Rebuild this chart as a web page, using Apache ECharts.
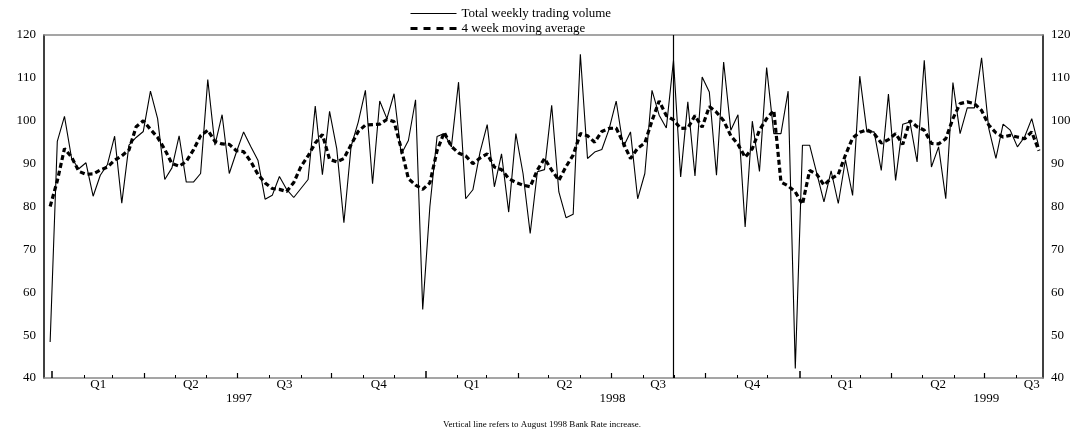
<!DOCTYPE html>
<html>
<head>
<meta charset="utf-8">
<script src="https://cdn.jsdelivr.net/npm/echarts@6/dist/echarts.min.js"></script>
<style>
html,body{margin:0;padding:0;background:#fff;}
#chart{width:1084px;height:435px;}
</style>
</head>
<body>
<div id="chart"></div>
<script>
// ---- data ----
const firstWeek = '1996-12-30';   // date of first weekly observation
const seriesNames = ['Total weekly trading volume', '4 week moving average'];
const volume = [
  48.4, 95.2, 101.0, 91.2, 88.8, 90.2, 82.4, 87.3, 89.8, 96.4,
  80.8, 94.3, 96.1, 97.5, 106.9, 100.5, 86.3, 89.0, 96.5, 85.7,
  85.7, 87.7, 109.6, 94.3, 101.4, 87.7, 92.7, 97.4, 94.0, 90.8,
  81.7, 82.6, 87.0, 84.0, 82.1, 84.2, 86.3, 103.4, 87.4, 102.2,
  93.5, 76.2, 94.0, 99.7, 107.1, 85.3, 104.6, 100.5, 106.3, 92.2,
  95.4, 104.9, 56.0, 80.0, 96.3, 97.0, 93.9, 109.0, 81.8, 83.9,
  92.7, 99.1, 84.6, 92.3, 78.7, 97.0, 87.7, 73.7, 88.1, 88.6,
  103.6, 83.4, 77.4, 78.2, 115.5, 91.2, 92.7, 93.3, 98.0, 104.6,
  93.9, 97.4, 81.8, 87.7, 107.1, 101.3, 98.3, 114.1, 86.9, 104.4,
  87.1, 110.2, 106.7, 87.3, 113.7, 97.8, 101.4, 75.2, 99.9, 88.2,
  112.4, 97.0, 97.0, 106.9, 42.2, 94.3, 94.3, 87.7, 81.1, 88.3,
  80.7, 90.9, 82.6, 110.4, 97.4, 97.4, 88.4, 106.2, 86.1, 99.2,
  99.7, 90.4, 114.1, 89.2, 93.9, 81.8, 108.9, 97.0, 103.0, 103.0,
  114.7, 98.2, 91.2, 99.2, 97.8, 93.9, 96.2, 100.5, 93.9
];
const movingAvg = [
  80.0, 86.0, 93.5, 91.5, 88.2, 87.5, 87.6, 88.5, 89.2, 90.8,
  91.8, 93.2, 98.6, 100.0, 98.0, 96.1, 93.3, 90.0, 89.4, 90.5,
  93.2, 96.5, 97.8, 95.2, 94.6, 94.5, 93.0, 92.8, 90.5, 87.5,
  85.5, 84.2, 84.0, 83.5, 85.6, 89.3, 91.8, 94.8, 96.8, 91.0,
  90.4, 91.2, 94.4, 97.5, 99.0, 99.1, 99.2, 100.3, 99.8, 93.5,
  86.5, 85.0, 84.0, 85.5, 93.0, 97.3, 94.0, 92.5, 91.8, 90.0,
  91.3, 92.3, 89.2, 88.6, 86.5, 85.6, 85.0, 84.6, 88.5, 91.2,
  88.5, 86.1, 89.3, 92.0, 97.0, 96.5, 95.0, 97.5, 98.2, 98.3,
  94.8, 91.2, 93.6, 94.8, 100.0, 104.6, 101.2, 100.2, 98.2, 98.3,
  101.2, 98.5, 103.3, 102.0, 100.0, 96.5, 94.5, 91.5, 93.5, 97.8,
  100.5, 102.4, 85.7, 84.8, 83.4, 80.5, 88.4, 87.5, 85.0, 86.5,
  87.5, 92.0, 96.0, 97.3, 97.9, 97.0, 94.8, 95.6, 97.0, 94.5,
  100.0, 98.6, 97.8, 94.7, 94.6, 95.8, 100.5, 104.0, 104.4, 104.0,
  102.4, 99.0, 97.2, 96.2, 96.6, 96.2, 95.8, 97.4, 93.0
];
const rateRiseDate = '1998-08-31';
const axisStart = '1996-12-24';
const axisEnd = '1999-08-27';
const years = [1997, 1998, 1999];
const quarterLabels = ['Q1', 'Q2', 'Q3', 'Q4'];
const yTicks = {min: 40, max: 120, interval: 10};
const footnote = 'Vertical line refers to August 1998 Bank Rate increase.';

// ---- helpers: x axis measured in days from 1 Jan 1997 ----
const DAY = 86400000;
const ORIGIN = Date.UTC(1997, 0, 1);
const dayOf = s => { const [y, m, d] = s.split('-').map(Number); return (Date.UTC(y, m - 1, d) - ORIGIN) / DAY; };
const dayYMD = (y, m, d) => (Date.UTC(y, m - 1, d) - ORIGIN) / DAY;
const xMin = dayOf(axisStart), xMax = dayOf(axisEnd);
const start = dayOf(firstWeek);
const volData = volume.map((v, i) => [start + 7 * i, v]);
const maData = movingAvg.map((v, i) => [start + 7 * i, v]);

const monthTicks = [], quarterTicks = [], yearTicks = [];
for (const y of years) {
  for (let m = 1; m <= 12; m++) {
    const d = dayYMD(y, m, 1);
    if (d < xMin || d > xMax) continue;
    if (m === 1) yearTicks.push(d);
    else if ((m - 1) % 3 === 0) quarterTicks.push(d);
    else monthTicks.push(d);
  }
}
const qMids = [], qMap = {};
for (const y of years) {
  for (let q = 0; q < 4; q++) {
    const a = dayYMD(y, q * 3 + 1, 1), b = q === 3 ? dayYMD(y + 1, 1, 1) : dayYMD(y, q * 3 + 4, 1);
    const mid = (a + b) / 2;
    if (mid < xMin || mid > xMax) continue;
    qMids.push(mid); qMap[mid] = quarterLabels[q];
  }
}
const yMids = [], yMap = {};
for (const y of years) {
  const mid = (dayYMD(y, 1, 1) + dayYMD(y + 1, 1, 1)) / 2;
  yMids.push(mid); yMap[mid] = String(y);
}

const SERIF = 'Liberation Serif';
const baseX = {
  type: 'value', min: xMin, max: xMax, position: 'bottom',
  splitLine: {show: false}, axisLine: {show: false},
  axisTick: {show: false}, axisLabel: {show: false}
};
const chart = echarts.init(document.getElementById('chart'));
chart.setOption({
  animation: false,
  backgroundColor: '#fff',
  grid: {left: 44, right: 41, top: 35, bottom: 57},
  title: {
    text: footnote, left: 'center', bottom: 1,
    textStyle: {fontFamily: SERIF, fontSize: 9, fontWeight: 'normal', color: '#000'}
  },
  legend: {
    show: true,
    orient: 'vertical', left: 404, top: 2, right: 'auto', bottom: 'auto',
    itemWidth: 46, itemHeight: 10, itemGap: 2,
    textStyle: {fontFamily: SERIF, fontSize: 13, color: '#000'},
    data: [
      {name: seriesNames[0], itemStyle: {opacity: 0}, lineStyle: {color: '#000', width: 1}},
      {name: seriesNames[1], itemStyle: {opacity: 0}, lineStyle: {color: '#000', width: 3, type: [7, 6]}}
    ]
  },
  xAxis: [
    Object.assign({}, baseX, {
      axisLine: {show: true, onZero: false, lineStyle: {color: '#888', width: 1.5}},
      axisTick: {show: true, inside: true, length: 3, customValues: monthTicks, lineStyle: {color: '#000', width: 1}}
    }),
    Object.assign({}, baseX, {
      axisTick: {show: true, inside: true, length: 5, customValues: quarterTicks, lineStyle: {color: '#000', width: 1.2}},
      axisLabel: {show: true, customValues: qMids, margin: 0, formatter: v => qMap[v] || '',
        fontFamily: SERIF, fontSize: 13, color: '#000'}
    }),
    Object.assign({}, baseX, {
      axisTick: {show: true, inside: true, length: 7, customValues: yearTicks, lineStyle: {color: '#000', width: 1.5}},
      axisLabel: {show: true, customValues: yMids, margin: 14, formatter: v => yMap[v] || '',
        fontFamily: SERIF, fontSize: 13, color: '#000'}
    }),
    Object.assign({}, baseX, {
      position: 'top',
      axisLine: {show: true, onZero: false, lineStyle: {color: '#888', width: 1.5}}
    })
  ],
  yAxis: [
    {
      type: 'value', position: 'left', min: yTicks.min, max: yTicks.max, interval: yTicks.interval,
      splitLine: {show: false}, axisTick: {show: false},
      axisLine: {show: true, onZero: false, lineStyle: {color: '#000', width: 1.5}},
      axisLabel: {margin: 8, fontFamily: SERIF, fontSize: 13, color: '#000'}
    },
    {
      type: 'value', position: 'right', min: yTicks.min, max: yTicks.max, interval: yTicks.interval,
      splitLine: {show: false}, axisTick: {show: false},
      axisLine: {show: true, onZero: false, lineStyle: {color: '#000', width: 1.5}},
      axisLabel: {margin: 8, fontFamily: SERIF, fontSize: 13, color: '#000'}
    }
  ],
  series: [
    {
      name: seriesNames[0], type: 'line', data: volData, symbol: 'none', showSymbol: false,
      lineStyle: {color: '#000', width: 1.1}, itemStyle: {color: '#000'}, z: 3,
      markLine: {
        silent: true, symbol: ['none', 'none'], label: {show: false},
        lineStyle: {color: '#000', width: 1.2, type: 'solid'},
        data: [{xAxis: dayOf(rateRiseDate)}]
      }
    },
    {
      name: seriesNames[1], type: 'line', data: maData, symbol: 'none', showSymbol: false,
      lineStyle: {color: '#000', width: 3.2, type: [5, 3]}, itemStyle: {color: '#000'}, z: 4
    }
  ]
});
</script>
</body>
</html>
